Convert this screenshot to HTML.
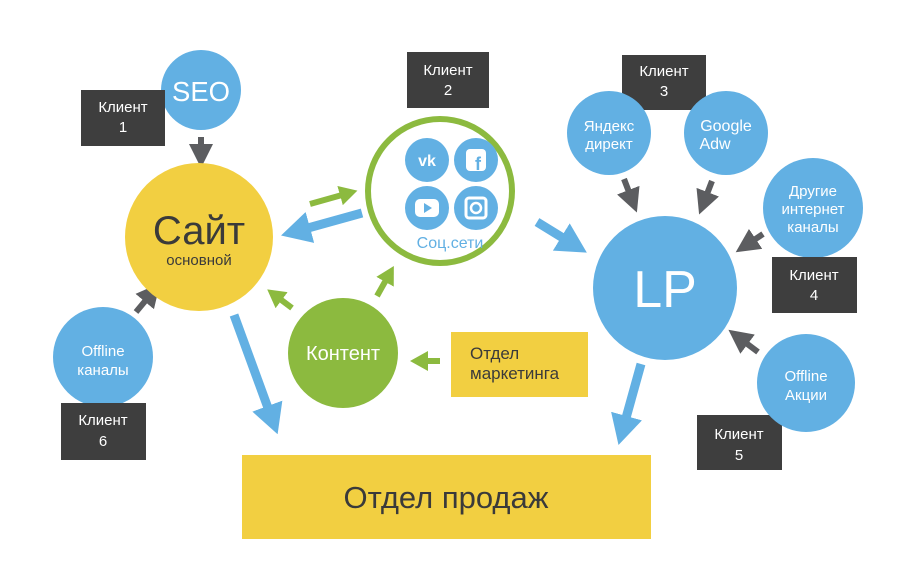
<!DOCTYPE html>
<html><head><meta charset="utf-8"><style>
html,body{margin:0;padding:0;background:#fff;width:916px;height:576px;overflow:hidden}
svg{display:block}
text{font-family:"Liberation Sans","DejaVu Sans",sans-serif}
</style></head><body>
<svg width="916" height="576" viewBox="0 0 916 576" xmlns="http://www.w3.org/2000/svg">
<defs>
<marker id="mg" markerUnits="userSpaceOnUse" markerWidth="24" markerHeight="24" refX="2" refY="12" orient="auto"><path d="M0,0 L24,12 L0,24 Z" fill="#5c5d60"/></marker>
<marker id="mb" markerUnits="userSpaceOnUse" markerWidth="30" markerHeight="32" refX="2" refY="16" orient="auto"><path d="M0,0 L30,16 L0,32 Z" fill="#62b0e3"/></marker>
<marker id="mgr" markerUnits="userSpaceOnUse" markerWidth="18" markerHeight="20" refX="2" refY="10" orient="auto"><path d="M0,0 L18,10 L0,20 Z" fill="#8cba3f"/></marker>
</defs>

<rect x="242" y="455" width="409" height="84" fill="#f2cf41"/>
<text x="446" y="508" font-size="31" fill="#3a3a3a" text-anchor="middle">Отдел продаж</text>
<rect x="451" y="332" width="137" height="65" fill="#f2cf41"/>
<text x="470" y="359" font-size="17" fill="#3a3a3a">Отдел</text>
<text x="470" y="379" font-size="17" fill="#3a3a3a">маркетинга</text>

<line x1="201" y1="137" x2="201" y2="146" stroke="#5c5d60" stroke-width="6" marker-end="url(#mg)"/>
<line x1="136" y1="312" x2="146" y2="300" stroke="#5c5d60" stroke-width="6" marker-end="url(#mg)"/>
<line x1="624" y1="179" x2="629" y2="192" stroke="#5c5d60" stroke-width="6" marker-end="url(#mg)"/>
<line x1="712" y1="181" x2="707" y2="194" stroke="#5c5d60" stroke-width="6" marker-end="url(#mg)"/>
<line x1="763" y1="234" x2="754" y2="240" stroke="#5c5d60" stroke-width="6" marker-end="url(#mg)"/>
<line x1="758" y1="352" x2="746" y2="343" stroke="#5c5d60" stroke-width="6" marker-end="url(#mg)"/>

<line x1="362" y1="213" x2="308" y2="228" stroke="#62b0e3" stroke-width="9" marker-end="url(#mb)"/>
<line x1="537" y1="222" x2="563" y2="238" stroke="#62b0e3" stroke-width="9" marker-end="url(#mb)"/>
<line x1="234" y1="315" x2="268" y2="408" stroke="#62b0e3" stroke-width="9" marker-end="url(#mb)"/>
<line x1="641" y1="364" x2="626" y2="418" stroke="#62b0e3" stroke-width="9" marker-end="url(#mb)"/>

<line x1="310" y1="204" x2="342" y2="195" stroke="#8cba3f" stroke-width="6" marker-end="url(#mgr)"/>
<line x1="292" y1="308" x2="280" y2="299" stroke="#8cba3f" stroke-width="6" marker-end="url(#mgr)"/>
<line x1="377" y1="296" x2="386" y2="280" stroke="#8cba3f" stroke-width="6" marker-end="url(#mgr)"/>
<line x1="440" y1="361" x2="426" y2="361" stroke="#8cba3f" stroke-width="6" marker-end="url(#mgr)"/>

<circle cx="199" cy="237" r="74" fill="#f2cf41"/>
<text x="199" y="244" font-size="40" fill="#3a3a3a" text-anchor="middle">Сайт</text>
<text x="199" y="265" font-size="15" fill="#3a3a3a" text-anchor="middle">основной</text>

<circle cx="201" cy="90" r="40" fill="#62b0e3"/>
<text x="201" y="101" font-size="28" fill="#fff" text-anchor="middle" textLength="58" lengthAdjust="spacingAndGlyphs">SEO</text>
<rect x="81" y="90" width="84" height="56" fill="#3e3e3e"/>
<text x="123" y="112" font-size="15" fill="#fff" text-anchor="middle">Клиент</text>
<text x="123" y="132" font-size="15" fill="#fff" text-anchor="middle">1</text>

<circle cx="103" cy="357" r="50" fill="#62b0e3"/>
<text x="103" y="356" font-size="15" fill="#fff" text-anchor="middle">Offline</text>
<text x="103" y="375" font-size="15" fill="#fff" text-anchor="middle">каналы</text>
<rect x="61" y="403" width="85" height="57" fill="#3e3e3e"/>
<text x="103" y="425" font-size="15" fill="#fff" text-anchor="middle">Клиент</text>
<text x="103" y="446" font-size="15" fill="#fff" text-anchor="middle">6</text>

<rect x="407" y="52" width="82" height="56" fill="#3e3e3e"/>
<text x="448" y="75" font-size="15" fill="#fff" text-anchor="middle">Клиент</text>
<text x="448" y="95" font-size="15" fill="#fff" text-anchor="middle">2</text>
<circle cx="440" cy="191" r="72" fill="#fff" stroke="#8cba3f" stroke-width="6"/>
<circle cx="427" cy="160" r="22" fill="#62b0e3"/>
<circle cx="476" cy="160" r="22" fill="#62b0e3"/>
<circle cx="427" cy="208" r="22" fill="#62b0e3"/>
<circle cx="476" cy="208" r="22" fill="#62b0e3"/>
<text x="427" y="166" font-size="16" font-weight="bold" fill="#fff" text-anchor="middle">vk</text>
<rect x="466" y="149" width="20" height="22" rx="4" fill="#fff"/>
<text x="478" y="170" font-size="18" font-weight="bold" fill="#62b0e3" text-anchor="middle">f</text>
<rect x="415" y="199" width="24" height="18" rx="5" fill="#fff"/>
<path d="M424,203 L432,208 L424,213 Z" fill="#62b0e3"/>
<rect x="466" y="198" width="20" height="20" rx="3" fill="none" stroke="#fff" stroke-width="3"/>
<circle cx="476" cy="208" r="5" fill="none" stroke="#fff" stroke-width="2.5"/>
<text x="450" y="248" font-size="16" fill="#62b0e3" text-anchor="middle">Соц.сети</text>

<circle cx="343" cy="353" r="55" fill="#8cba3f"/>
<text x="343" y="360" font-size="20" fill="#fff" text-anchor="middle">Контент</text>

<circle cx="665" cy="288" r="72" fill="#62b0e3"/>
<text x="665" y="307" font-size="52" fill="#fff" text-anchor="middle">LP</text>

<rect x="622" y="55" width="84" height="55" fill="#3e3e3e"/>
<text x="664" y="76" font-size="15" fill="#fff" text-anchor="middle">Клиент</text>
<text x="664" y="96" font-size="15" fill="#fff" text-anchor="middle">3</text>
<circle cx="609" cy="133" r="42" fill="#62b0e3"/>
<text x="609" y="131" font-size="15" fill="#fff" text-anchor="middle">Яндекс</text>
<text x="609" y="149" font-size="15" fill="#fff" text-anchor="middle">директ</text>
<circle cx="726" cy="133" r="42" fill="#62b0e3"/>
<text x="726" y="131" font-size="16" fill="#fff" text-anchor="middle">Google</text>
<text x="715" y="149" font-size="16" fill="#fff" text-anchor="middle">Adw</text>

<circle cx="813" cy="208" r="50" fill="#62b0e3"/>
<text x="813" y="196" font-size="15" fill="#fff" text-anchor="middle">Другие</text>
<text x="813" y="214" font-size="15" fill="#fff" text-anchor="middle">интернет</text>
<text x="813" y="232" font-size="15" fill="#fff" text-anchor="middle">каналы</text>
<rect x="772" y="257" width="85" height="56" fill="#3e3e3e"/>
<text x="814" y="280" font-size="15" fill="#fff" text-anchor="middle">Клиент</text>
<text x="814" y="300" font-size="15" fill="#fff" text-anchor="middle">4</text>

<rect x="697" y="415" width="85" height="55" fill="#3e3e3e"/>
<text x="739" y="439" font-size="15" fill="#fff" text-anchor="middle">Клиент</text>
<text x="739" y="460" font-size="15" fill="#fff" text-anchor="middle">5</text>
<circle cx="806" cy="383" r="49" fill="#62b0e3"/>
<text x="806" y="381" font-size="15" fill="#fff" text-anchor="middle">Offline</text>
<text x="806" y="400" font-size="15" fill="#fff" text-anchor="middle">Акции</text>
</svg>
</body></html>
